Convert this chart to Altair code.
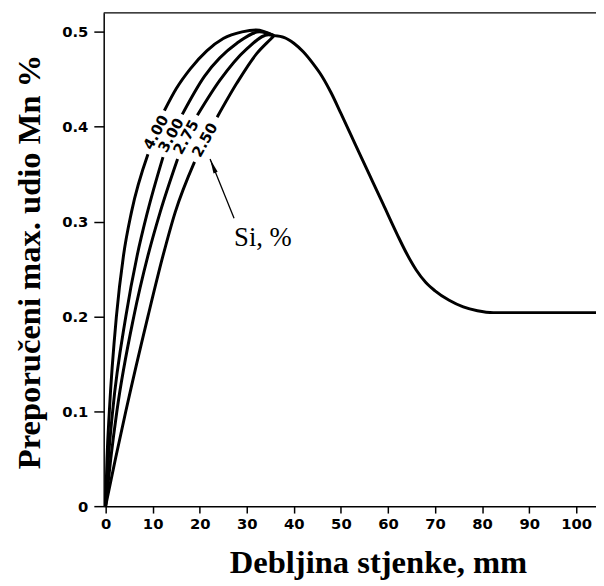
import altair as alt
import pandas as pd

# ---- data ----
x_common = [35.8, 38, 40, 42, 44, 46, 48, 50, 53, 56, 59, 62, 64, 66, 68, 70, 73, 76, 79, 82.4, 104.2]
y_common = [0.496, 0.494, 0.488, 0.479, 0.467, 0.453, 0.435, 0.414, 0.382, 0.350, 0.318, 0.286,
            0.266, 0.249, 0.236, 0.227, 0.217, 0.210, 0.206, 0.204, 0.204]

x_400_low = [0, 0.3, 0.8, 2.3, 3.8, 5.5, 9.0]
y_400_low = [0, 0.05, 0.10, 0.20, 0.264, 0.31, 0.371]
x_400_high = [12.5, 15.0, 18.0, 21.5, 25.0, 29.0, 32.0, 35.8]
y_400_high = [0.417, 0.440, 0.461, 0.480, 0.493, 0.500, 0.502, 0.496]

x_300_low = [0, 0.6, 1.5, 4.3, 6.7, 8.9, 12.2]
y_300_low = [0, 0.05, 0.10, 0.20, 0.264, 0.31, 0.368]
x_300_high = [16.3, 21.0, 27.9, 32.7, 35.8]
y_300_high = [0.413, 0.453, 0.488, 0.500, 0.496]

x_275_low = [0, 1.1, 2.4, 6.0, 9.0, 11.6, 15.3]
y_275_low = [0, 0.05, 0.10, 0.20, 0.264, 0.31, 0.366]
x_275_high = [19.5, 24.3, 30.0, 34.6, 35.8]
y_275_high = [0.412, 0.449, 0.482, 0.497, 0.496]

x_250_low = [0, 2.1, 4.3, 9.0, 12.2, 14.8, 18.9]
y_250_low = [0, 0.05, 0.10, 0.20, 0.264, 0.31, 0.363]
x_250_high = [23.7, 27.9, 32.1, 35.0, 35.8]
y_250_high = [0.410, 0.446, 0.477, 0.492, 0.496]

si_labels = ["4.00", "3.00", "2.75", "2.50"]
si_label_x = [10.7, 13.9, 17.1, 21.1]
si_label_y = [0.394, 0.391, 0.389, 0.386]

note_text = ["Si, %"]
note_x = [27.3]
note_y = [0.2744]
arrow_tail = (27.3, 0.3035)
arrow_tip = (22.2, 0.366)

x_ticks = [0, 10, 20, 30, 40, 50, 60, 70, 80, 90, 100]
y_ticks = [0, 0.1, 0.2, 0.3, 0.4, 0.5]

# ---- build tables ----
segments = [
    ("common", x_common, y_common),
    ("4.00-low", x_400_low, y_400_low), ("4.00-high", x_400_high, y_400_high),
    ("3.00-low", x_300_low, y_300_low), ("3.00-high", x_300_high, y_300_high),
    ("2.75-low", x_275_low, y_275_low), ("2.75-high", x_275_high, y_275_high),
    ("2.50-low", x_250_low, y_250_low), ("2.50-high", x_250_high, y_250_high),
]
rows = []
for name, xs, ys in segments:
    for i, (xv, yv) in enumerate(zip(xs, ys)):
        rows.append({"seg": name, "i": i, "x": xv, "y": yv})
curves = pd.DataFrame(rows)

labels_df = pd.DataFrame({"t": si_labels, "x": si_label_x, "y": si_label_y})
note_df = pd.DataFrame({"t": note_text, "x": note_x, "y": note_y})
arrow_df = pd.DataFrame({"x": [arrow_tail[0]], "y": [arrow_tail[1]],
                         "x2": [arrow_tip[0]], "y2": [arrow_tip[1]]})
tip_df = pd.DataFrame({"x": [arrow_tip[0]], "y": [arrow_tip[1]]})

W, H = 499, 500
xscale = alt.Scale(domain=[-0.4, 104.2], nice=False, zero=False)
yscale = alt.Scale(domain=[0, 0.52], nice=False, zero=False)

tick_font = "DejaVu Sans"

x_axis = alt.Axis(
    values=x_ticks, format="d", title="Debljina stjenke, mm",
    grid=False, domainColor="black", domainWidth=1.5,
    tickColor="black", tickWidth=1.5, tickSize=7,
    labelFont=tick_font, labelFontSize=15, labelFontWeight="bold",
    labelColor="black", labelPadding=4,
    titleFont="Liberation Serif", titleFontSize=33, titleFontWeight="bold",
    titleColor="black", titleX=278, titleY=67, titleAlign="center",
    titleBaseline="alphabetic",
)
y_axis = alt.Axis(
    values=y_ticks, title="Preporučeni max. udio Mn %",
    labelExpr="datum.value == 0 ? '0' : format(datum.value, '.1f')",
    grid=False, domainColor="black", domainWidth=1.5,
    tickColor="black", tickWidth=1.5, tickSize=10,
    labelFont=tick_font, labelFontSize=15, labelFontWeight="bold",
    labelColor="black", labelPadding=6,
    titleFont="Liberation Serif", titleFontSize=33, titleFontWeight="bold",
    titleColor="black", titleAngle=270, titleX=-75, titleY=252,
    titleAlign="center", titleBaseline="middle",
)

lines = alt.Chart(curves).mark_line(
    color="black", strokeWidth=3, interpolate="monotone", clip=True
).encode(
    x=alt.X("x:Q", scale=xscale, axis=x_axis),
    y=alt.Y("y:Q", scale=yscale, axis=y_axis),
    detail="seg:N",
    order="i:Q",
)

labels = alt.Chart(labels_df).mark_text(
    font=tick_font, fontSize=15, fontWeight="bold", color="black",
    angle=299, align="center", baseline="middle"
).encode(x=alt.X("x:Q", scale=xscale), y=alt.Y("y:Q", scale=yscale), text="t:N")

note = alt.Chart(note_df).mark_text(
    font="Liberation Serif", fontSize=27, color="black",
    align="left", baseline="alphabetic"
).encode(x=alt.X("x:Q", scale=xscale), y=alt.Y("y:Q", scale=yscale), text="t:N")

arrow = alt.Chart(arrow_df).mark_rule(color="black", strokeWidth=1.3).encode(
    x=alt.X("x:Q", scale=xscale), y=alt.Y("y:Q", scale=yscale),
    x2="x2:Q", y2="y2:Q",
)
tip = alt.Chart(tip_df).mark_point(
    shape="M0,0L0.3,2L-0.3,2Z", size=225, filled=True, color="black",
    opacity=1, angle=338
).encode(x=alt.X("x:Q", scale=xscale), y=alt.Y("y:Q", scale=yscale))

frame_top = alt.Chart(pd.DataFrame({"a": [0]})).mark_rule(
    color="black", strokeWidth=1.5
).encode(x=alt.value(0), x2=alt.value(W), y=alt.value(0))

chart = alt.layer(lines, labels, note, arrow, tip, frame_top).properties(
    width=W, height=H,
    padding={"left": 97, "top": 1, "right": 0, "bottom": 77},
    autosize=alt.AutoSizeParams(type="none"),
    background="white",
).configure_view(stroke=None)

chart.save("out.html", embed_options={"renderer": "svg", "actions": False})
